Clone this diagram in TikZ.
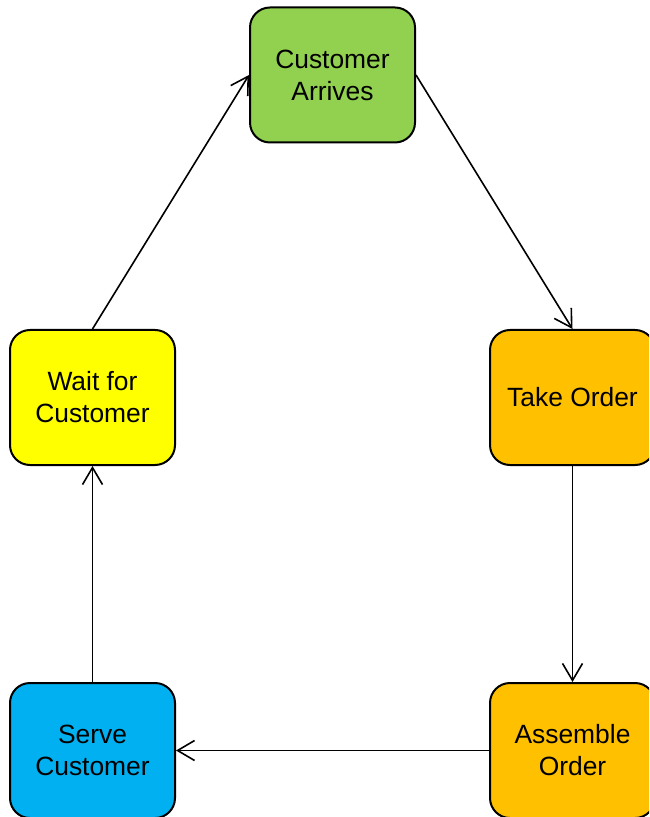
\documentclass[tikz,border=0pt]{standalone}
\usepackage{fontspec}
\setmainfont{Liberation Sans}
\usetikzlibrary{arrows.meta}
\begin{document}
\begin{tikzpicture}[x=0.5pt,y=-0.5pt,
    stage/.style={draw, line width=1pt, rounded corners=10pt, minimum width=82.5pt, minimum height=67.5pt, align=center, font=\fontsize{13.2}{16}\selectfont},
    flow/.style={-{Straight Barb[length=8.5pt,width=10pt]}, line width=0.8pt}]
                \useasboundingbox (0,0) rectangle (649,817); \clip (0,0) rectangle (649,817);
                \node[stage, fill={rgb,255:red,146;green,208;blue,80}] (arrives) at (332.5,75) {Customer\\Arrives};
                \node[stage, fill={rgb,255:red,255;green,255;blue,0}] (wait) at (92.5,397.5) {Wait for\\Customer}; \node[stage, fill={rgb,255:red,255;green,192;blue,0}] (take) at (572.5,397.5) {Take Order};
                \node[stage, fill={rgb,255:red,0;green,176;blue,240}] (serve) at (92.5,750.5) {Serve\\Customer}; \node[stage, fill={rgb,255:red,255;green,192;blue,0}] (assemble) at (572.5,750.5) {Assemble\\Order};

                \draw[flow] (arrives.east) to (take.north); \draw[flow] (take.south) to (assemble.north);
                \draw[flow] (assemble.west) to (serve.east); \draw[flow] (serve.north) to (wait.south);
                \draw[flow] (wait.north) to (arrives.west);
            \end{tikzpicture}
\end{document}
